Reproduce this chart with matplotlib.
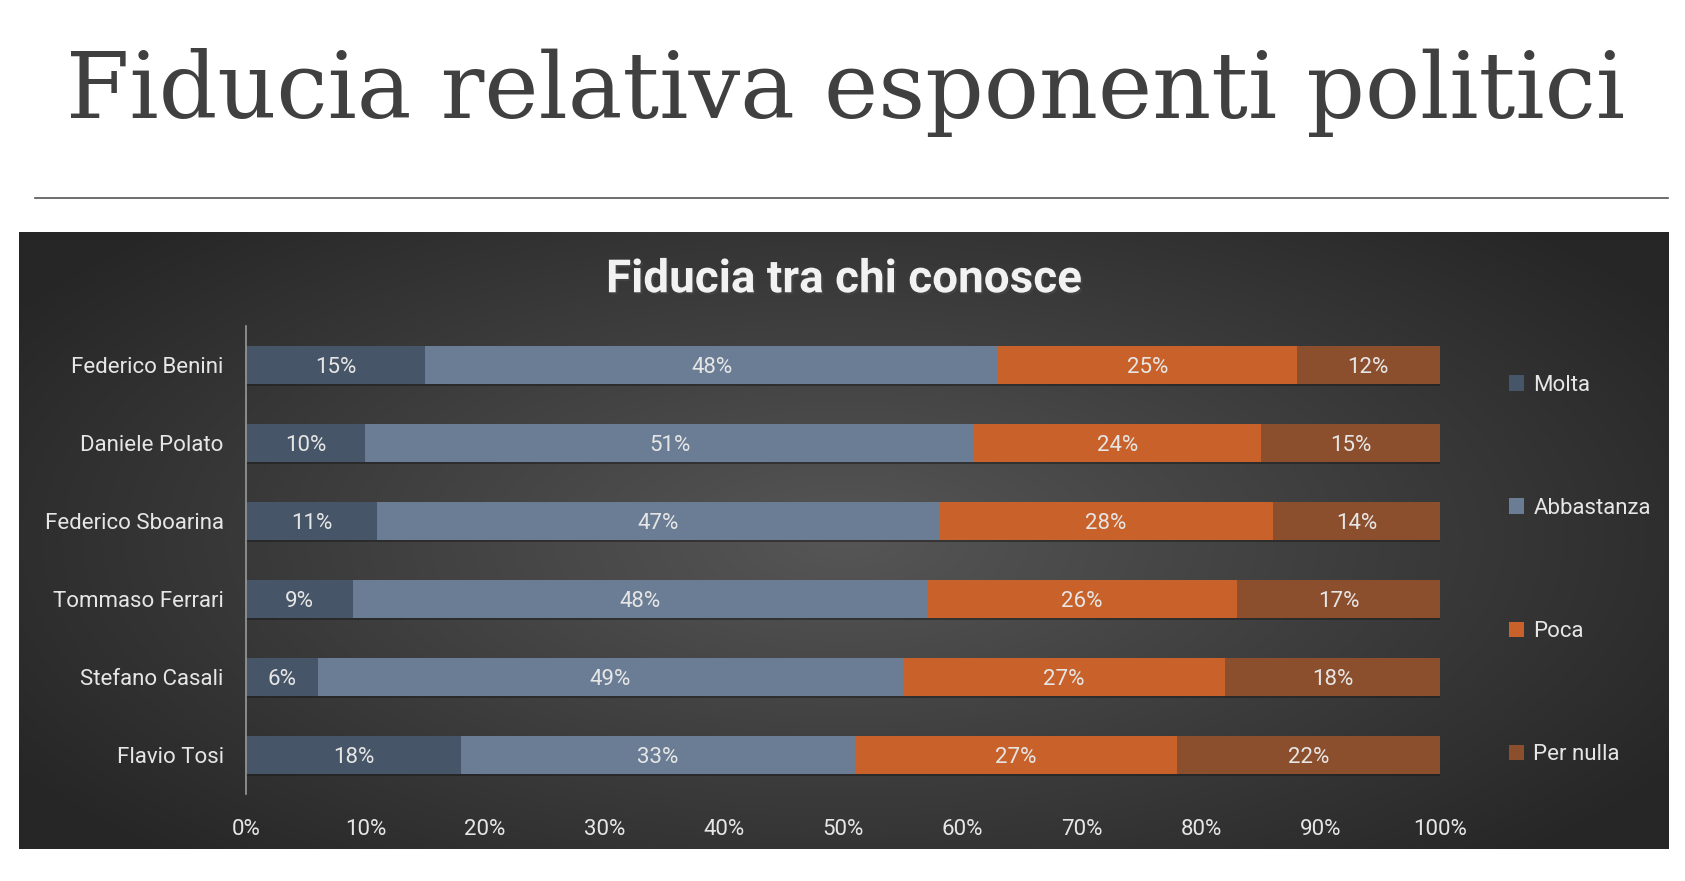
import numpy as np
import matplotlib.pyplot as plt
import matplotlib.patheffects as pe
from matplotlib.colors import LinearSegmentedColormap
from matplotlib.ticker import PercentFormatter

names = ["Federico Benini", "Daniele Polato", "Federico Sboarina",
         "Tommaso Ferrari", "Stefano Casali", "Flavio Tosi"]
series = ["Molta", "Abbastanza", "Poca", "Per nulla"]
molta = [15, 10, 11, 9, 6, 18]
abbastanza = [48, 51, 47, 48, 49, 33]
poca = [25, 24, 28, 26, 27, 27]
per_nulla = [12, 15, 14, 17, 18, 22]
colors = ["#465567", "#6a7d95", "#c9622a", "#8c4f2d"]

sans = ["Roboto", "DejaVu Sans"]
txt = "#e6e6e6"

fig = plt.figure(figsize=(16.85, 8.81), dpi=100)
fig.patch.set_facecolor("white")

# page title and rule
fig.text(0.502, 0.866, "Fiducia relativa esponenti politici", ha="center",
         va="baseline", fontsize=66, color="#404040", family="DejaVu Serif")
fig.add_artist(plt.Line2D([0.021, 0.990], [0.775, 0.775], color="#555555", lw=1.2))

# dark panel, lighter in the middle
bg = fig.add_axes([0.0113, 0.0363, 0.9787, 0.7004])
bg.axis("off")
yy, xx = np.mgrid[0:1:300j, 0:1:600j]
r = np.sqrt(((xx - 0.5) / 0.75) ** 2 + ((yy - 0.5) / 0.9) ** 2)
cmap = LinearSegmentedColormap.from_list("g", ["#565656", "#262626"])
bg.imshow(np.clip(r, 0, 1), cmap=cmap, aspect="auto", extent=(0, 1, 0, 1),
          vmin=0, vmax=0.8)
bg.set_xlim(0, 1)
bg.set_ylim(0, 1)

fig.text(0.501, 0.683, "Fiducia tra chi conosce", ha="center", va="center",
         fontsize=33, color="#f2f2f2", family=sans, fontweight="bold",
         path_effects=[pe.withSimplePatchShadow(offset=(1.5, -1.5), alpha=0.6)])

ax = fig.add_axes([0.146, 0.0988, 0.7086, 0.5312])
ax.patch.set_alpha(0)
y = np.arange(len(names))
data = [molta, abbastanza, poca, per_nulla]
left = np.zeros(len(names))
for vals, col, lab in zip(data, colors, series):
    vals = np.array(vals)
    ax.barh(y + 0.03, vals, left=left, height=0.48, color="#1a1a1a", alpha=0.5, zorder=1)
    ax.barh(y, vals, left=left, height=0.48, color=col, label=lab, zorder=2)
    for yi, l, v in zip(y, left, vals):
        ax.text(l + v / 2, yi, f"{v}%", ha="center", va="center_baseline",
                fontsize=16, color=txt, family=sans, zorder=3)
    left += vals

ax.set_xlim(0, 100)
ax.set_ylim(len(names) - 0.5, -0.5)
ax.set_yticks(y)
ax.set_yticklabels(names, family=sans, fontsize=16, color=txt)
ax.set_xticks(np.arange(0, 101, 10))
ax.xaxis.set_major_formatter(PercentFormatter(decimals=0))
for t in ax.get_xticklabels():
    t.set_family(sans)
ax.tick_params(axis="x", colors=txt, labelsize=16, length=0, pad=18)
ax.tick_params(axis="y", colors=txt, length=0, pad=16)
for s in ["top", "right", "bottom"]:
    ax.spines[s].set_visible(False)
ax.spines["left"].set_color("#9a9a9a")
ax.spines["left"].set_linewidth(1.2)

leg = fig.legend(*ax.get_legend_handles_labels(), loc="center left",
                 bbox_to_anchor=(0.8836, 0.353), frameon=False, labelspacing=4.6,
                 handlelength=0.7, handleheight=0.7, handletextpad=0.4,
                 prop={"family": sans, "size": 16})
for t in leg.get_texts():
    t.set_color(txt)

fig.savefig("out.png", dpi=100)
